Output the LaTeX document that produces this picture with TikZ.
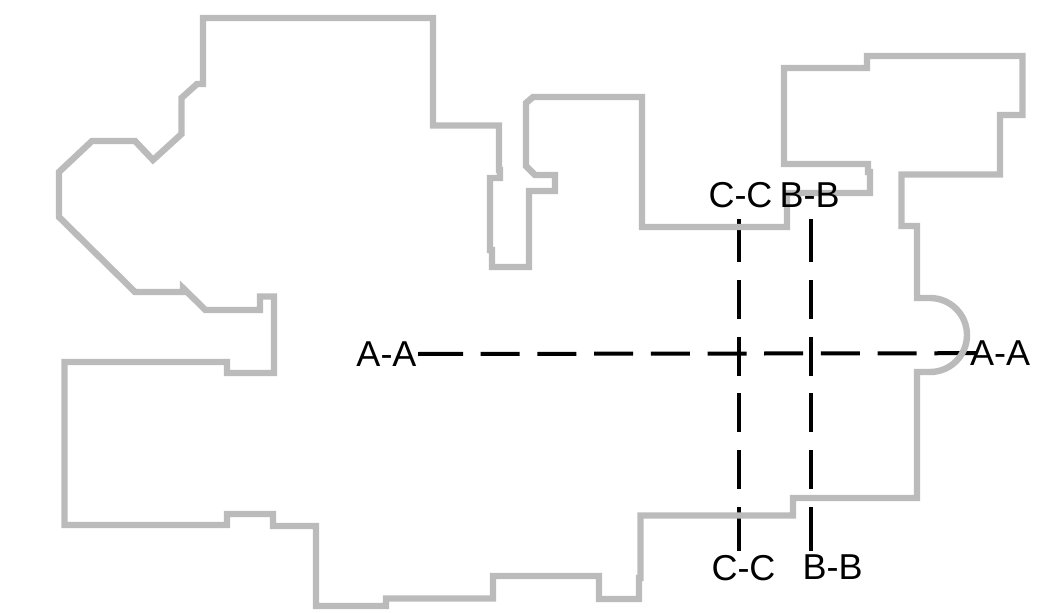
\documentclass[tikz,border=0pt]{standalone}
\usepackage{fontspec}
\setmainfont{Liberation Sans}
\definecolor{wallgrey}{HTML}{BBBBBB}
\pgfdeclarelayer{lines}
\pgfsetlayers{lines,main}
\tikzset{
  wall/.style={draw=wallgrey,line width=6.4pt,miter limit=3,line join=miter},
  seclabel/.style={anchor=base,inner sep=0pt,outer sep=0pt,text height=26pt,text depth=1pt,font=\fontsize{36pt}{36pt}\selectfont},
  sechoriz/.style={draw=black,line width=4pt,dash pattern=on 45pt off 17.7pt on 39pt off 17.7pt on 39pt off 17.7pt on 39pt off 17.7pt on 39pt off 17.7pt on 39pt off 17.7pt on 39pt off 17.7pt on 39pt off 17.7pt on 39pt off 17.7pt on 60pt off 10pt},
  secvert/.style={draw=black,line width=4pt,dash pattern=on 43pt off 18pt on 39pt off 17.7pt on 39pt off 17.7pt on 39pt off 17.7pt on 39pt off 17.7pt on 60pt off 10pt}
}
\begin{document}
\begin{tikzpicture}[x=1pt,y=-1pt]
\useasboundingbox (0,0) rectangle (1045,613);
% labels
\node[seclabel] (aaL) at (386.5,366.5) {A-A};
\node[seclabel] (aaR) at (1000,365.7) {A-A};
\node[seclabel] (ccT) at (740.5,207.5) {C-C};
\node[seclabel] (bbT) at (809.5,207) {B-B};
\node[seclabel] (ccB) at (743.5,580) {C-C};
\node[seclabel] (bbB) at (832.5,579.5) {B-B};
\coordinate (ccTop) at (739.3,219);
\coordinate (ccEnd) at (739.3,551);
\coordinate (bbTop) at (811.3,219);
\coordinate (bbEnd) at (811.3,551);
\begin{pgfonlayer}{lines}
% section lines
\draw[sechoriz,shorten <=1.5pt,shorten >=-6pt] (aaL.east) -- (aaR.west);
\draw[secvert] (ccTop) -- (ccEnd);
\draw[secvert] (bbTop) -- (bbEnd);
% outline of the plan, above the section lines
\draw[wall]
  (203,18) -- (203,84) -- (197,84) -- (181.5,98) -- (181.5,134) -- (153,160)
  -- (135,141) -- (92,141) -- (59,172) -- (59,217) -- (135,292) -- (183,292)
  -- (183,288) -- (205.5,310) -- (260,310) -- (260,296.5) -- (274,296.5)
  -- (274,373) -- (227,373) -- (227,362) -- (64.5,362) -- (64.5,525) -- (227,525)
  -- (227,514) -- (273,514) -- (273,526) -- (316,526) -- (316,606) -- (386,606)
  -- (386,598.5) -- (493,598.5) -- (493,576) -- (599,576) -- (599,599) -- (639,599)
  -- (639,578) -- (640.5,578) -- (640.5,515.5) -- (793,515.5) -- (793,498) -- (917,498)
  -- (917,372) -- (930,372) arc[start angle=-90,end angle=90,x radius=37pt,y radius=37pt]
  -- (917,298) -- (917,226) -- (901.5,226) -- (901.5,174.5) -- (1000,174.5)
  -- (1000,115) -- (1022.5,115) -- (1022.5,56) -- (867,56) -- (867,68) -- (784,68)
  -- (784,164) -- (868,164) -- (868,172) -- (870,172) -- (870,193) -- (787,193)
  -- (787,227) -- (642,227) -- (642,97) -- (533,97) -- (526,103) -- (526,166)
  -- (535,175) -- (555,175) -- (555,191) -- (529,191) -- (529,267) -- (492,267)
  -- (492,250) -- (490,250) -- (490,178) -- (500,178) -- (500,170) -- (499,170)
  -- (499,125.5) -- (433,125.5) -- (433,18) -- cycle;
\end{pgfonlayer}
\end{tikzpicture}
\end{document}
